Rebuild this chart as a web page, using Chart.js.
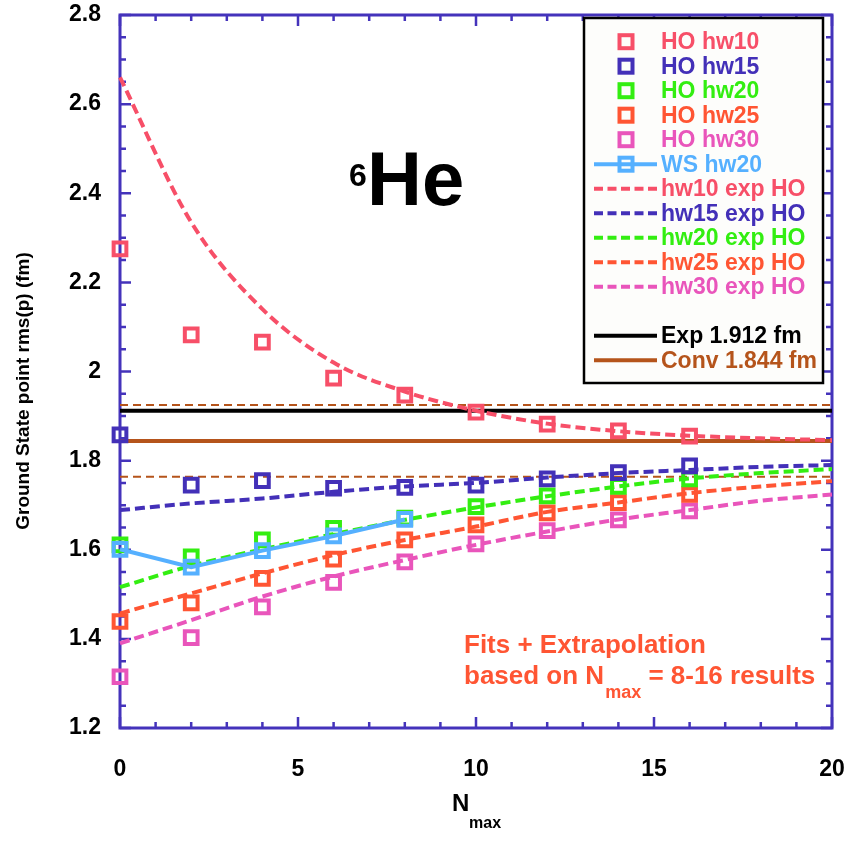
<!DOCTYPE html>
<html>
<head>
<meta charset="utf-8">
<script src="https://cdn.jsdelivr.net/npm/chart.js@4.4.1/dist/chart.umd.min.js"></script>
<style>
  html, body { margin: 0; padding: 0; background: #ffffff; }
  #wrap { width: 846px; height: 841px; }
</style>
</head>
<body>
<div id="wrap"><canvas id="rmsChart" width="846" height="841"></canvas></div>
<script>
// N_max values of the calculations
const nmax = [0, 2, 4, 6, 8, 10, 12, 14, 16];
const hoHw10 = [2.275, 2.082, 2.066, 1.985, 1.947, 1.909, 1.882, 1.867, 1.855];
const hoHw15 = [1.858, 1.745, 1.755, 1.738, 1.740, 1.745, 1.759, 1.773, 1.788];
const hoHw20 = [1.611, 1.584, 1.622, 1.648, 1.671, 1.697, 1.721, 1.742, 1.759];
const hoHw25 = [1.439, 1.481, 1.536, 1.579, 1.622, 1.656, 1.683, 1.706, 1.724];
const hoHw30 = [1.315, 1.403, 1.472, 1.527, 1.573, 1.613, 1.643, 1.667, 1.687];

const wsN = [0, 2, 4, 6, 8];
const wsHw20 = [1.601, 1.561, 1.598, 1.631, 1.668];

// fitted exponential curves
const fitN = [0, 2, 4, 6, 8, 10, 12, 14, 16, 18, 20];
const expHw10 = [2.660, 2.335, 2.140, 2.020, 1.955, 1.912, 1.883, 1.866, 1.856, 1.850, 1.846];
const expHw15 = [1.689, 1.704, 1.715, 1.730, 1.742, 1.750, 1.762, 1.772, 1.779, 1.786, 1.790];
const expHw20 = [1.516, 1.564, 1.601, 1.635, 1.667, 1.695, 1.720, 1.742, 1.760, 1.772, 1.781];
const expHw25 = [1.457, 1.502, 1.547, 1.588, 1.622, 1.652, 1.685, 1.706, 1.727, 1.742, 1.754];
const expHw30 = [1.390, 1.442, 1.495, 1.540, 1.577, 1.611, 1.641, 1.668, 1.689, 1.710, 1.724];

const lineN = [0, 20];
const expRms = [1.912, 1.912];
const convRms = [1.844, 1.844];
const convHigh = [1.925, 1.925];
const convLow = [1.764, 1.764];

const warna = {
  hw10: "#f74f68",
  hw15: "#4330b8",
  hw20: "#33ee11",
  hw25: "#ff5533",
  hw30: "#e955bb",
  ws: "#55b0ff",
  conv: "#b5541b",
  sumbu: "#4433bb"
};
const FONT = "'Liberation Sans', Arial, Helvetica, sans-serif";

function titik(xs, ys) {
  return xs.map((x, i) => ({ x: x, y: ys[i] }));
}

function markerSet(label, xs, ys, c) {
  return {
    label: label, data: titik(xs, ys), showLine: false,
    borderColor: c, backgroundColor: "rgba(0,0,0,0)",
    pointStyle: "rect", pointRadius: 9, pointBorderWidth: 4,
    pointBackgroundColor: "rgba(0,0,0,0)", pointBorderColor: c,
    clip: false, legendType: "marker"
  };
}

function fitSet(label, ys, c) {
  return {
    label: label, data: titik(fitN, ys), borderColor: c, borderWidth: 4,
    borderDash: [10, 5], pointRadius: 0, cubicInterpolationMode: "monotone",
    clip: false, legendType: "dash"
  };
}

const datasets = [
  {
    label: "WS hw20", data: titik(wsN, wsHw20), borderColor: warna.ws, borderWidth: 4,
    pointStyle: "rect", pointRadius: 9, pointBorderWidth: 4,
    pointBackgroundColor: "rgba(0,0,0,0)", pointBorderColor: warna.ws,
    clip: false, legendType: "linemarker"
  },
  markerSet("HO hw10", nmax, hoHw10, warna.hw10),
  markerSet("HO hw15", nmax, hoHw15, warna.hw15),
  markerSet("HO hw20", nmax, hoHw20, warna.hw20),
  markerSet("HO hw25", nmax, hoHw25, warna.hw25),
  markerSet("HO hw30", nmax, hoHw30, warna.hw30),
  fitSet("hw10 exp HO", expHw10, warna.hw10),
  fitSet("hw15 exp HO", expHw15, warna.hw15),
  fitSet("hw20 exp HO", expHw20, warna.hw20),
  fitSet("hw25 exp HO", expHw25, warna.hw25),
  fitSet("hw30 exp HO", expHw30, warna.hw30),
  { label: "Exp 1.912 fm", data: titik(lineN, expRms), borderColor: "#000000", borderWidth: 4, pointRadius: 0, clip: false, legendType: "solid" },
  { label: "Conv 1.844 fm", data: titik(lineN, convRms), borderColor: warna.conv, borderWidth: 4, pointRadius: 0, clip: false, legendType: "solid" },
  { label: "conv high", data: titik(lineN, convHigh), borderColor: warna.conv, borderWidth: 2, borderDash: [8, 5], pointRadius: 0, clip: false },
  { label: "conv low", data: titik(lineN, convLow), borderColor: warna.conv, borderWidth: 2, borderDash: [8, 5], pointRadius: 0, clip: false }
];

// legend order (null = empty row)
const urutanLegenda = ["HO hw10", "HO hw15", "HO hw20", "HO hw25", "HO hw30", "WS hw20",
  "hw10 exp HO", "hw15 exp HO", "hw20 exp HO", "hw25 exp HO", "hw30 exp HO", null,
  "Exp 1.912 fm", "Conv 1.844 fm"];

// frame + inward ticks on all four sides
const bingkai = {
  id: "bingkai",
  beforeDatasetsDraw(chart) {
    const { ctx, chartArea: a, scales } = chart;
    ctx.save();
    ctx.strokeStyle = warna.sumbu;
    ctx.lineWidth = 3;
    ctx.strokeRect(a.left, a.top, a.right - a.left, a.bottom - a.top);
    ctx.lineWidth = 2.5;
    ctx.beginPath();
    for (let n = 0; n <= 20; n++) {
      const px = scales.x.getPixelForValue(n);
      const len = n % 5 === 0 ? 11 : 6;
      ctx.moveTo(px, a.bottom); ctx.lineTo(px, a.bottom - len);
      ctx.moveTo(px, a.top); ctx.lineTo(px, a.top + len);
    }
    for (let k = 0; k <= 32; k++) {
      const v = 1.2 + k * 0.05;
      const py = scales.y.getPixelForValue(v);
      const len = k % 4 === 0 ? 11 : 6;
      ctx.moveTo(a.left, py); ctx.lineTo(a.left + len, py);
      ctx.moveTo(a.right, py); ctx.lineTo(a.right - len, py);
    }
    ctx.stroke();
    ctx.restore();
  },
  afterDraw(chart) {
    const ctx = chart.ctx;
    ctx.save();

    // axis titles
    ctx.fillStyle = "#000000";
    ctx.textBaseline = "alphabetic";
    ctx.font = "bold 19px " + FONT;
    ctx.save();
    ctx.translate(29, 391);
    ctx.rotate(-Math.PI / 2);
    ctx.textAlign = "center";
    ctx.fillText("Ground State point rms(p) (fm)", 0, 0);
    ctx.restore();
    ctx.textAlign = "left";
    ctx.font = "bold 24px " + FONT;
    ctx.fillText("N", 452, 811);
    ctx.font = "bold 16px " + FONT;
    ctx.fillText("max", 469, 828);

    // nucleus label
    ctx.font = "bold 32px " + FONT;
    ctx.fillText("6", 349, 186);
    ctx.font = "bold 76px " + FONT;
    ctx.fillText("He", 367, 205);

    // fit note
    ctx.fillStyle = warna.hw25;
    ctx.font = "bold 26px " + FONT;
    ctx.fillText("Fits + Extrapolation", 464, 653);
    ctx.fillText("based on N", 464, 684);
    let w = ctx.measureText("based on N").width;
    ctx.font = "bold 18px " + FONT;
    ctx.fillText("max", 464 + w + 1, 698);
    const w2 = ctx.measureText("max").width;
    ctx.font = "bold 26px " + FONT;
    ctx.fillText(" = 8-16 results", 464 + w + w2 + 1, 684);

    // legend box
    ctx.fillStyle = "#fdfdfb";
    ctx.fillRect(584, 18, 239, 365);
    ctx.strokeStyle = "#000000";
    ctx.lineWidth = 2.5;
    ctx.strokeRect(584, 18, 239, 365);

    const ds = chart.data.datasets;
    ctx.font = "bold 23px " + FONT;
    ctx.textBaseline = "middle";
    urutanLegenda.forEach((nama, i) => {
      if (!nama) return;
      const d = ds.find(s => s.label === nama);
      const y = 41.7 + i * 24.5;
      const c = d.borderColor;
      ctx.strokeStyle = c;
      ctx.lineWidth = 4;
      if (d.legendType === "dash" || d.legendType === "solid" || d.legendType === "linemarker") {
        ctx.setLineDash(d.legendType === "dash" ? [9, 4.5] : []);
        ctx.beginPath();
        ctx.moveTo(594, y); ctx.lineTo(657, y);
        ctx.stroke();
        ctx.setLineDash([]);
      }
      if (d.legendType === "marker" || d.legendType === "linemarker") {
        ctx.strokeRect(626 - 6.5, y - 6.5, 13, 13);
      }
      ctx.fillStyle = c;
      ctx.fillText(nama, 661, y + 1);
    });
    ctx.restore();
  }
};

const config = {
  type: "line",
  data: { datasets: datasets },
  options: {
    responsive: false,
    animation: false,
    events: [],
    layout: { padding: { top: 15, right: 14, left: 0, bottom: 0 } },
    plugins: {
      legend: { display: false },
      tooltip: { enabled: false }
    },
    scales: {
      x: {
        type: "linear", min: 0, max: 20,
        afterFit(s) { s.height = 113; s.paddingLeft = 0; s.paddingRight = 0; },
        grid: { display: false, drawTicks: false },
        border: { display: false },
        ticks: {
          stepSize: 5, color: "#000000", padding: 28,
          font: { family: FONT, size: 23, weight: "bold" }
        }
      },
      y: {
        type: "linear", min: 1.2, max: 2.8,
        afterFit(s) { s.width = 120; s.paddingTop = 0; s.paddingBottom = 0; },
        grid: { display: false, drawTicks: false },
        border: { display: false },
        ticks: {
          stepSize: 0.2, color: "#000000", padding: 19,
          font: { family: FONT, size: 23, weight: "bold" },
          callback: v => String(parseFloat(Number(v).toFixed(1)))
        }
      }
    }
  },
  plugins: [bingkai]
};

new Chart(document.getElementById("rmsChart").getContext("2d"), config);
</script>
</body>
</html>
